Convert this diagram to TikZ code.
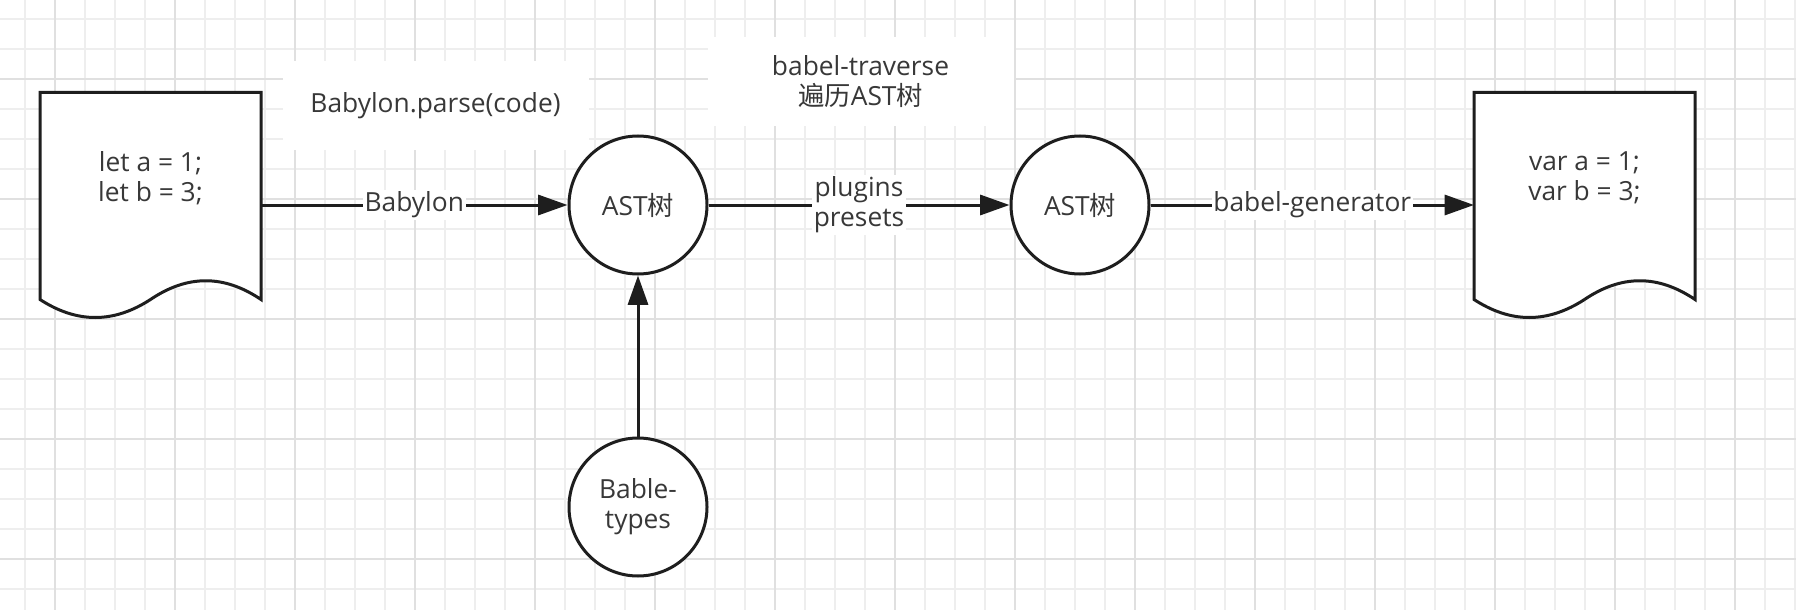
\documentclass[tikz,border=0pt]{standalone}
\usepackage{fontspec}
\setmainfont{Open Sans}
\newfontfamily\cjk{Noto Sans CJK SC}
\usepackage{tikz}
\usetikzlibrary{arrows.meta,calc,backgrounds}
\definecolor{gridminor}{HTML}{EEEEEE}
\definecolor{gridmajor}{HTML}{E0E0E0}
\definecolor{inkcolor}{HTML}{1E1E1E}
\definecolor{textcolor}{HTML}{383838}
\def\px{0.75pt}
\tikzstyle{docline} = [
    draw=inkcolor,
    fill=white,
    line width=3*\px
    ]
\tikzstyle{docnode} = [
    rectangle,
    inner sep=0pt,
    outer sep=0pt,
    text=textcolor
    ]
\tikzstyle{astnode} = [
    circle,
    draw=inkcolor,
    fill=white,
    line width=3*\px,
    minimum size=138*\px,
    inner sep=0pt,
    align=center,
    text=textcolor
    ]
\tikzstyle{flow} = [
    draw=inkcolor,
    line width=3*\px,
    -{Triangle[length=22pt,width=15pt]}
    ]
\tikzstyle{flowlabel} = [
    fill=white,
    text=textcolor,
    inner sep=1.2pt,
    align=center
    ]
\tikzstyle{notebox} = [
    fill=white,
    text=textcolor,
    align=center,
    minimum width=306*\px,
    minimum height=88*\px
    ]
% document outline round a docnode
\newcommand{\docoutline}[1]{%
  \draw[docline] (#1.north west) -- (#1.north east) -- ($(#1.south east)+(0,-18)$)
    .. controls ($(#1.south east)+(-37,-43)$) and ($(#1.south)+(37,-43)$) .. ($(#1.south)+(0,-18)$)
    .. controls ($(#1.south)+(-37,6)$) and ($(#1.south west)+(37,6)$) .. ($(#1.south west)+(0,-18)$)
    -- cycle;}

\begin{document}
\begin{tikzpicture}[x=\px, y=-\px, font=\fontsize{19.75pt}{22.5pt}\selectfont]
\useasboundingbox (0,0) rectangle (1796,610);
\begin{scope}[on background layer]
\fill[white] (0,0) rectangle (1796,610);
\foreach \gx in {25,55,...,1795}
    \draw[gridminor, line width=1.3*\px] (\gx,0) -- (\gx,610);
\foreach \gy in {19,49,...,589}
    \draw[gridminor, line width=1.3*\px] (0,\gy) -- (1796,\gy);
\foreach \gx in {55,175,...,1735}
    \draw[gridmajor, line width=1.3*\px] (\gx,0) -- (\gx,610);
\foreach \gy in {79,199,...,559}
    \draw[gridmajor, line width=1.3*\px] (0,\gy) -- (1796,\gy);
\end{scope}

\node [docnode] (src) at (150.5,205){%
    \begin{minipage}[c][168.75pt][t]{165.75pt}\centering
    \vspace*{44.5pt}
    let a = 1;\\
    let b = 3;
    \end{minipage}
};
\node [docnode] (dst) at (1584.5,205){%
    \begin{minipage}[c][168.75pt][t]{165.75pt}\centering
    \vspace*{44.5pt}
    var a = 1;\\
    var b = 3;
    \end{minipage}
};
\begin{scope}[on background layer]
\docoutline{src}
\docoutline{dst}
\end{scope}

\node [astnode] (ast) at (638,205) {AST{\cjk 树}};
\node [astnode] (astout) at (1080,205) {AST{\cjk 树}};
\node [astnode] (types) at (638,507) {Bable-\\types};

\node [notebox] (parsenote) at (435.5,105.5) {Babylon.parse(code)};
\node [notebox] (traversenote) at (860.5,81.5) {babel-traverse\\{\cjk 遍历}AST{\cjk 树}};

\draw [flow] (src.east) -- node[flowlabel] {Babylon} (ast.west);
\draw [flow] (ast.east) -- node[flowlabel] {plugins\\presets} (astout.west);
\draw [flow] (astout.east) -- node[flowlabel] {babel-generator} (dst.west);
\draw [flow] (types.north) -- (ast.south);
\end{tikzpicture}
\end{document}
